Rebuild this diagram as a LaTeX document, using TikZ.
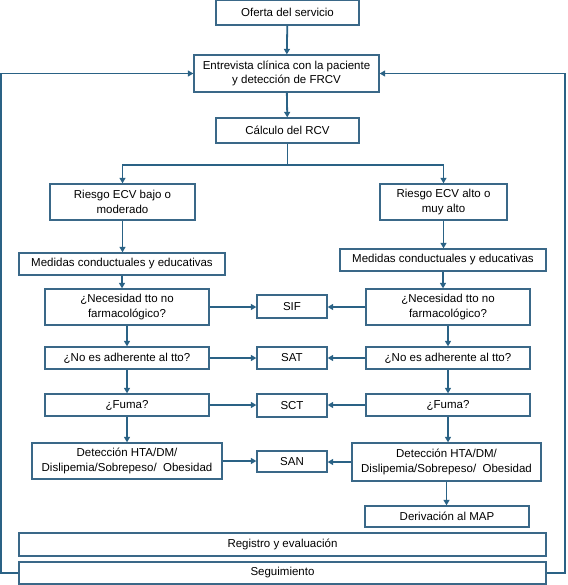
\documentclass[tikz,border=0pt]{standalone}
\usepackage{fontspec}
\setmainfont{Liberation Sans}
\usetikzlibrary{arrows.meta}
\definecolor{ln}{RGB}{42,98,133}
\definecolor{bd}{RGB}{58,104,136}
\begin{document}
\begin{tikzpicture}[x=1pt,y=-1pt,
  box/.style={draw=bd, line width=1.3pt, fill=white, inner sep=0pt, align=center,
    font=\fontsize{11.5}{14.5}\selectfont},
  conn/.style={draw=ln, line width=1.8pt, -{Triangle[length=5.5pt,width=6pt]}},
  plain/.style={draw=ln, line width=1.8pt}]
\useasboundingbox (0,0) rectangle (567,585);
% boxes
\node[box, minimum width=143pt, minimum height=24.5pt] (oferta) at (287.5,12.75) {Oferta del servicio};
\node[box, minimum width=185pt, minimum height=37pt] (entrev) at (286.5,73.5) {Entrevista clínica con la paciente\\y detección de FRCV};
\node[box, minimum width=143pt, minimum height=25pt] (calc) at (287.5,130.5) {Cálculo del RCV};
\node[box, minimum width=145pt, minimum height=36pt] (rbajo) at (122.5,202) {Riesgo ECV bajo o\\moderado};
\node[box, minimum width=127pt, minimum height=36pt] (ralto) at (443.5,202) {Riesgo ECV alto o\\muy alto};
\node[box, minimum width=206pt, minimum height=22pt] (medL) at (122,264) {Medidas conductuales y educativas};
\node[box, minimum width=206pt, minimum height=22pt] (medR) at (443,260) {Medidas conductuales y educativas};
\node[box, minimum width=164pt, minimum height=36pt] (necL) at (127,307) {¿Necesidad tto no\\farmacológico?};
\node[box, minimum width=164pt, minimum height=36pt] (necR) at (448,307) {¿Necesidad tto no\\farmacológico?};
\node[box, minimum width=70pt, minimum height=23pt] (sif) at (292,306.5) {SIF};
\node[box, minimum width=164pt, minimum height=22pt] (adhL) at (127,358) {¿No es adherente al tto?};
\node[box, minimum width=164pt, minimum height=22pt] (adhR) at (448,358) {¿No es adherente al tto?};
\node[box, minimum width=70pt, minimum height=22pt] (sat) at (292,358) {SAT};
\node[box, minimum width=164pt, minimum height=22pt] (fumL) at (127,405) {¿Fuma?};
\node[box, minimum width=164pt, minimum height=22pt] (fumR) at (448,405) {¿Fuma?};
\node[box, minimum width=70pt, minimum height=23pt] (sct) at (292,405.5) {SCT};
\node[box, minimum width=190pt, minimum height=36pt] (detL) at (127,461) {Detección HTA/DM/\\Dislipemia/Sobrepeso/\ \ Obesidad};
\node[box, minimum width=189pt, minimum height=38pt] (detR) at (446.5,462) {Detección HTA/DM/\\Dislipemia/Sobrepeso/\ \ Obesidad};
\node[box, minimum width=70pt, minimum height=21pt] (san) at (292,461.5) {SAN};
\node[box, minimum width=164pt, minimum height=21pt] (deriv) at (447,516.5) {Derivación al MAP};
\node[box, minimum width=527pt, minimum height=23pt] (reg) at (282.5,544.5) {Registro y evaluación};
\node[box, minimum width=527pt, minimum height=22pt] (seg) at (282.5,573) {Seguimiento};
% connectors
\draw[conn] (oferta) -- (entrev);
\draw[conn] (entrev) -- (calc);
\draw[conn] (calc.south) -- ++(0,21.5) -| (rbajo.north);
\draw[conn] (calc.south) -- ++(0,21.5) -| (ralto.north);
\draw[conn] (rbajo.south) -- (rbajo.south |- medL.north);
\draw[conn] (medL.south) -- (medL.south |- necL.north);
\draw[conn] (necL) -- (adhL);
\draw[conn] (adhL) -- (fumL);
\draw[conn] (fumL) -- (detL);
\draw[conn] (ralto.south) -- (ralto.south |- medR.north);
\draw[conn] (medR.south) -- (medR.south |- necR.north);
\draw[conn] (necR) -- (adhR);
\draw[conn] (adhR) -- (fumR);
\draw[conn] (fumR.south) -- (fumR.south |- detR.north);
\draw[conn] (detR.south) -- (detR.south |- deriv.north);
\draw[conn] (necL.east) -- (necL.east -| sif.west);
\draw[conn] (necR.west) -- (necR.west -| sif.east);
\draw[conn] (adhL) -- (sat);
\draw[conn] (adhR) -- (sat);
\draw[conn] (fumL.east) -- (fumL.east -| sct.west);
\draw[conn] (fumR.west) -- (fumR.west -| sct.east);
\draw[conn] (detL.east) -- (detL.east -| san.west);
\draw[conn] (detR.west) -- (detR.west -| san.east);
\draw[conn] (seg.west) -- ++(-17,0) |- (entrev.west);
\draw[conn] (seg.east) -- ++(18,0) |- (entrev.east);
\end{tikzpicture}
\end{document}
